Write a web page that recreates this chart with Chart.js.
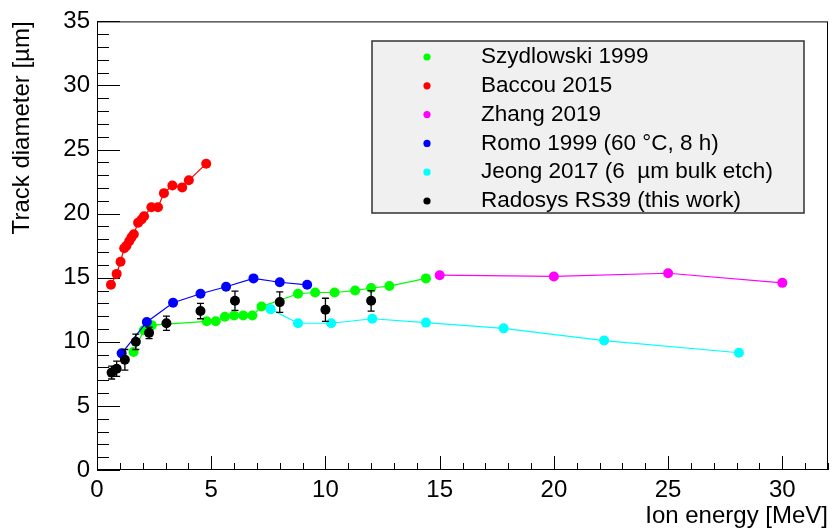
<!DOCTYPE html>
<html>
<head>
<meta charset="utf-8">
<script src="https://cdn.jsdelivr.net/npm/chart.js@4.4.0/dist/chart.umd.min.js"></script>
<style>
    html, body { margin: 0; padding: 0; background: #fff; }
</style>
</head>
<body>
<canvas id="trackChart" width="833" height="531"></canvas>
<script>
// data (energy in MeV, diameter in um)
const szydlowskiX = [1.6, 2.05, 2.4, 4.8, 5.2, 5.6, 6.0, 6.4, 6.8, 7.2, 8.8, 9.55, 10.4, 11.3, 12.0, 12.8, 14.4];
const szydlowskiY = [9.2, 10.9, 11.3, 11.6, 11.6, 11.95, 12.05, 12.05, 12.05, 12.75, 13.75, 13.85, 13.85, 14.0, 14.2, 14.35, 14.95];

const baccouX = [0.61, 0.86, 1.03, 1.19, 1.29, 1.41, 1.51, 1.61, 1.8, 1.95, 2.06, 2.38, 2.67, 2.93, 3.3, 3.73, 4.02, 4.78];
const baccouY = [14.45, 15.3, 16.25, 17.3, 17.5, 17.85, 18.15, 18.4, 19.3, 19.55, 19.8, 20.5, 20.5, 21.6, 22.2, 22.05, 22.6, 23.9];

const zhangX = [15, 20, 25, 30];
const zhangY = [15.2, 15.1, 15.35, 14.6];

const romoX = [1.08, 2.18, 3.33, 4.53, 5.65, 6.85, 8.0, 9.2];
const romoY = [9.1, 11.55, 13.05, 13.75, 14.3, 14.95, 14.65, 14.45];

const jeongX = [7.6, 8.8, 10.25, 12.05, 14.4, 17.8, 22.2, 28.1];
const jeongY = [12.55, 11.45, 11.45, 11.8, 11.5, 11.05, 10.1, 9.15];

const radosysX = [0.64, 0.86, 1.22, 1.7, 2.28, 3.04, 4.53, 6.04, 8.0, 10.0, 12.0];
const radosysY = [7.6, 7.9, 8.6, 10.0, 10.7, 11.45, 12.4, 13.2, 13.1, 12.5, 13.2];
const radosysErr = [0.5, 0.6, 0.8, 0.6, 0.45, 0.55, 0.6, 0.75, 0.8, 0.9, 0.8];

const xTickValues = [0, 5, 10, 15, 20, 25, 30];
const yTickValues = [0, 5, 10, 15, 20, 25, 30, 35];

function toPoints(xs, ys) {
    return xs.map((v, i) => ({ x: v, y: ys[i] }));
}

const FONT = '"Liberation Sans", Arial, Helvetica, sans-serif';

function series(label, xs, ys, color, order, line) {
    return {
        label: label,
        data: toPoints(xs, ys),
        borderColor: color,
        backgroundColor: color,
        pointBackgroundColor: color,
        pointBorderWidth: 0,
        pointRadius: 5,
        borderWidth: 1.2,
        showLine: line,
        tension: 0,
        order: order
    };
}

// ROOT style frame with ticks drawn inside
const rootFrame = {
    id: 'rootFrame',
    beforeDatasetsDraw(chart) {
        const { ctx, chartArea: a, scales: { x, y } } = chart;
        ctx.save();
        ctx.strokeStyle = '#000';
        ctx.lineWidth = 1;
        ctx.strokeRect(a.left + 0.5, a.top + 0.5, a.right - a.left - 1, a.bottom - a.top - 1);
        for (let v = 0; v <= 32; v++) {
            const px = Math.round(x.getPixelForValue(v)) + 0.5;
            const len = v % 5 === 0 ? 14 : 7;
            ctx.beginPath();
            ctx.moveTo(px, a.bottom);
            ctx.lineTo(px, a.bottom - len);
            ctx.stroke();
        }
        for (let v = 0; v <= 35; v++) {
            const py = Math.round(y.getPixelForValue(v)) + 0.5;
            const len = v % 5 === 0 ? 23 : 12;
            ctx.beginPath();
            ctx.moveTo(a.left, py);
            ctx.lineTo(a.left + len, py);
            ctx.stroke();
        }
        ctx.restore();
    }
};

// vertical error bars for the Radosys points
const errorBars = {
    id: 'errorBars',
    afterDatasetsDraw(chart) {
        const { ctx, scales: { x, y } } = chart;
        ctx.save();
        ctx.strokeStyle = '#000';
        ctx.lineWidth = 1.3;
        radosysX.forEach((v, i) => {
            const px = x.getPixelForValue(v);
            const top = y.getPixelForValue(radosysY[i] + radosysErr[i]);
            const bot = y.getPixelForValue(radosysY[i] - radosysErr[i]);
            ctx.beginPath();
            ctx.moveTo(px, top); ctx.lineTo(px, bot);
            ctx.moveTo(px - 3.5, top); ctx.lineTo(px + 3.5, top);
            ctx.moveTo(px - 3.5, bot); ctx.lineTo(px + 3.5, bot);
            ctx.stroke();
        });
        ctx.restore();
    }
};

// boxed legend like the original
const boxLegend = {
    id: 'boxLegend',
    afterDraw(chart) {
        const ctx = chart.ctx;
        ctx.save();
        ctx.fillStyle = '#f0f0f0';
        ctx.fillRect(372, 41, 432, 172);
        ctx.strokeStyle = '#333';
        ctx.lineWidth = 1.5;
        ctx.strokeRect(372, 41, 432, 172);
        ctx.font = '22.5px ' + FONT;
        ctx.textBaseline = 'middle';
        chart.data.datasets.forEach((ds, i) => {
            const yy = 57 + i * 28.8;
            ctx.fillStyle = ds.backgroundColor;
            ctx.beginPath();
            ctx.arc(427, yy, 3.6, 0, Math.PI * 2);
            ctx.fill();
            ctx.fillStyle = '#000';
            ctx.fillText(ds.label, 481, yy);
        });
        ctx.restore();
    }
};

const ctx = document.getElementById('trackChart');
new Chart(ctx, {
    type: 'scatter',
    data: {
        datasets: [
            series('Szydlowski 1999', szydlowskiX, szydlowskiY, '#00ff00', 3, true),
            series('Baccou 2015', baccouX, baccouY, '#ff0000', 5, true),
            series('Zhang 2019', zhangX, zhangY, '#ff00ff', 4, true),
            series('Romo 1999 (60 °C, 8 h)', romoX, romoY, '#0000ff', 2, true),
            series('Jeong 2017 (6  µm bulk etch)', jeongX, jeongY, '#00ffff', 1, true),
            series('Radosys RS39 (this work)', radosysX, radosysY, '#000000', 0, false)
        ]
    },
    options: {
        responsive: false,
        animation: false,
        layout: { padding: { top: 14, right: 2, left: 0, bottom: 0 } },
        plugins: {
            legend: { display: false },
            tooltip: { enabled: false }
        },
        scales: {
            x: {
                type: 'linear',
                min: 0,
                max: 32,
                grid: { display: false, drawTicks: false },
                border: { display: false },
                afterBuildTicks: s => { s.ticks = xTickValues.map(v => ({ value: v })); },
                afterFit: s => { s.height = 61; },
                ticks: {
                    color: '#000',
                    padding: 6,
                    maxRotation: 0,
                    autoSkip: false,
                    font: { family: FONT, size: 24 }
                },
                title: {
                    display: true,
                    text: 'Ion energy [MeV]',
                    align: 'end',
                    color: '#000',
                    padding: { top: 0, bottom: 0 },
                    font: { family: FONT, size: 24 }
                }
            },
            y: {
                min: 0,
                max: 35,
                grid: { display: false, drawTicks: false },
                border: { display: false },
                afterBuildTicks: s => { s.ticks = yTickValues.map(v => ({ value: v })); },
                afterFit: s => { s.width = 97; },
                ticks: {
                    color: '#000',
                    padding: 7,
                    autoSkip: false,
                    font: { family: FONT, size: 24 }
                },
                title: {
                    display: true,
                    text: 'Track diameter [µm]',
                    align: 'end',
                    color: '#000',
                    padding: { top: 8, bottom: 0 },
                    font: { family: FONT, size: 24 }
                }
            }
        }
    },
    plugins: [rootFrame, errorBars, boxLegend]
});
</script>
</body>
</html>
